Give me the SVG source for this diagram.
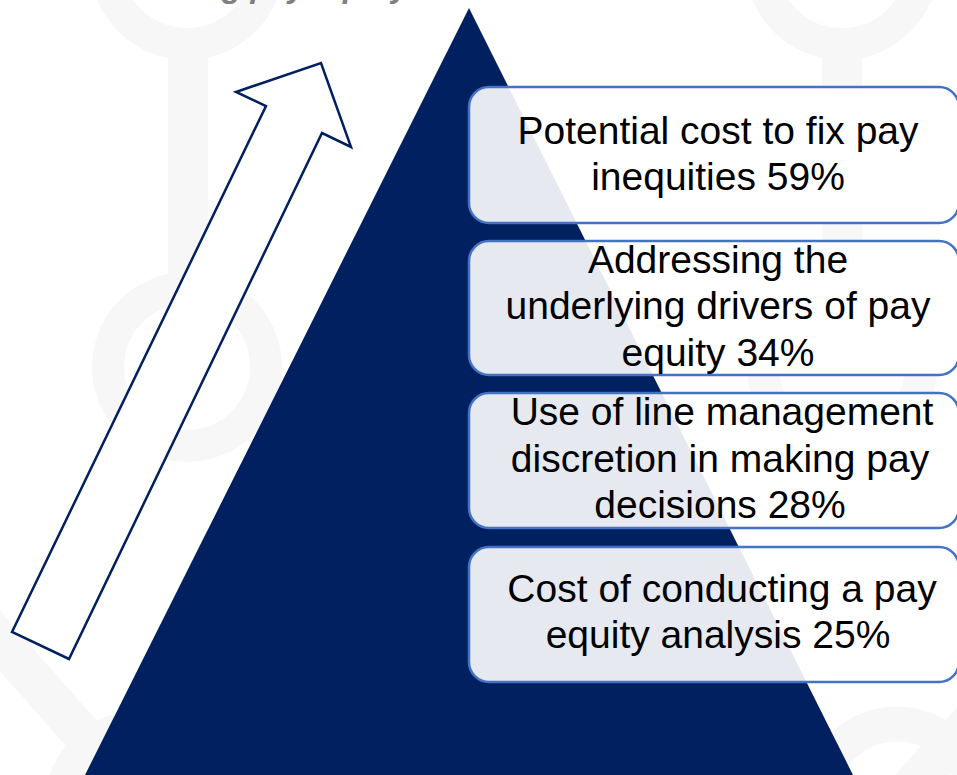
<svg xmlns="http://www.w3.org/2000/svg" width="957" height="775" viewBox="0 0 957 775">
  <defs>
    <style>
      .wm { fill: none; stroke: #f7f7f7; }
      .wmfill { fill: #f7f7f7; }
      .box { fill: #ffffff; fill-opacity: 0.9; stroke: #4472c4; stroke-width: 2.5; }
      .label { font-family: "Liberation Sans", Arial, sans-serif; font-size: 39px; fill: #000000; text-anchor: middle; }
      .title { font-family: "Liberation Sans", Arial, sans-serif; font-size: 32px; font-weight: bold; font-style: italic; fill: #7f7f7f; }
    </style>
  </defs>

  <rect width="957" height="775" fill="#ffffff"/>

  <!-- faint background watermark (molecule-style rings and stems) -->
  <g id="watermark">
    <circle class="wm" cx="187" cy="-37" r="81" stroke-width="32"/>
    <rect class="wmfill" x="168" y="55" width="40" height="225"/>
    <circle class="wm" cx="187" cy="367" r="79" stroke-width="32"/>
    <circle class="wm" cx="842" cy="-37" r="81" stroke-width="32"/>
    <rect class="wmfill" x="822" y="55" width="40" height="225"/>
    <circle class="wm" cx="842" cy="367" r="79" stroke-width="32"/>
    <line class="wm" x1="-60" y1="573" x2="140" y2="800" stroke-width="40"/>
    <circle class="wm" cx="140" cy="805" r="79" stroke-width="32"/>
    <line class="wm" x1="897" y1="802" x2="1010" y2="680" stroke-width="40"/>
    <circle class="wm" cx="897" cy="802" r="78" stroke-width="35"/>
  </g>

  <!-- clipped heading at the top edge -->
  <text class="title" x="222" y="-3">g pay equity</text>

  <!-- pyramid -->
  <g id="pyramid">
    <polygon points="469,8 853,775 85,775" fill="#002060"/>
  </g>

  <!-- rising outlined arrow -->
  <g id="arrow">
    <polygon points="12,632 266,106 236,92 321,63 351,147 322,133 69,659" fill="#ffffff" stroke="#002060" stroke-width="2.5" stroke-linejoin="miter"/>
  </g>

  <g id="box1">
    <rect class="box" x="469" y="87" width="490" height="136" rx="20"/>
    <text class="label" x="718" y="144">Potential cost to fix pay</text>
    <text class="label" x="718" y="190">inequities 59%</text>
  </g>

  <g id="box2">
    <rect class="box" x="469" y="241" width="490" height="134" rx="20"/>
    <text class="label" x="718" y="273">Addressing the</text>
    <text class="label" x="718" y="319">underlying drivers of pay</text>
    <text class="label" x="718" y="366">equity 34%</text>
  </g>

  <g id="box3">
    <rect class="box" x="469" y="393" width="490" height="135" rx="20"/>
    <text class="label" x="722" y="425">Use of line management</text>
    <text class="label" x="720" y="472">discretion in making pay</text>
    <text class="label" x="720" y="518">decisions 28%</text>
  </g>

  <g id="box4">
    <rect class="box" x="469" y="547" width="490" height="135" rx="20"/>
    <text class="label" x="722" y="602">Cost of conducting a pay</text>
    <text class="label" x="718" y="648">equity analysis 25%</text>
  </g>

  <g id="connectors"/>
</svg>
